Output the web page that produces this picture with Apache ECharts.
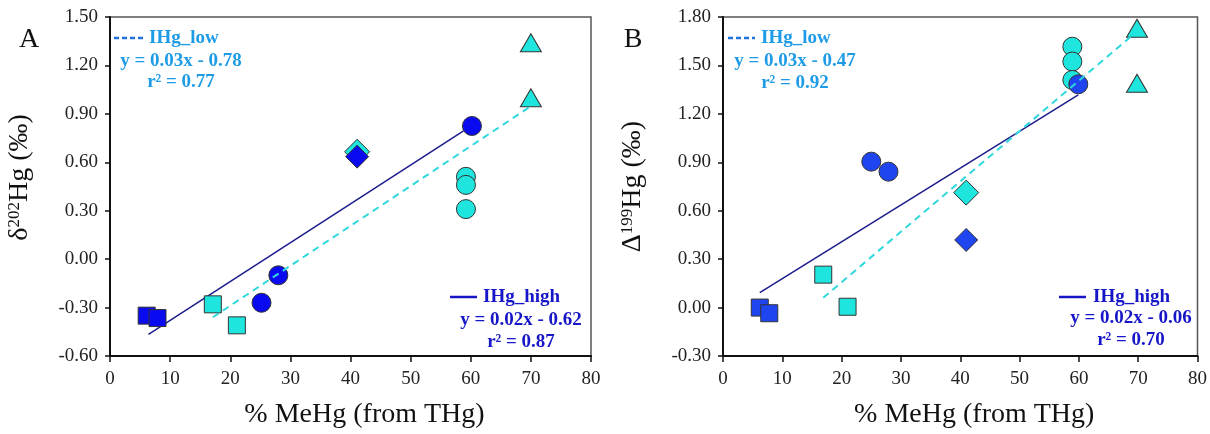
<!DOCTYPE html>
<html>
<head>
<meta charset="utf-8">
<script src="https://cdn.jsdelivr.net/npm/echarts@6/dist/echarts.min.js"></script>
<style>
  html, body { margin: 0; padding: 0; background: #fff; }
  #chart { width: 1210px; height: 434px; }
</style>
</head>
<body>
<div id="chart"></div>
<script>
// panel A: delta 202Hg vs %MeHg
var aBlueSquares = [[6.1, -0.35], [7.9, -0.365]]
var aCyanSquares = [[17.1, -0.28], [21.1, -0.41]]
var aBlueCircles = [[25.2, -0.27], [28.0, -0.10], [60.2, 0.825]]
var aCyanCircles = [[59.2, 0.51], [59.2, 0.46], [59.2, 0.31]]
var aCyanDiamonds = [[41.1, 0.665]]
var aBlueDiamonds = [[41.1, 0.635]]
var aCyanTriangles = [[70, 1.34], [70, 1.00]]
var aHighFit = [[6.4, -0.466], [58.8, 0.794]]
var aLowFit = [[17.1, -0.36], [69.9, 0.945]]

// panel B: Delta 199Hg vs %MeHg
var bBlueSquares = [[6.2, 0.0], [7.8, -0.035]]
var bCyanSquares = [[16.9, 0.204], [21.0, 0.005]]
var bBlueCircles = [[25.0, 0.904], [27.9, 0.842], [59.9, 1.383]]
var bCyanCircles = [[58.9, 1.616], [58.9, 1.524], [58.9, 1.41]]
var bCyanDiamonds = [[41.0, 0.712]]
var bBlueDiamonds = [[41.0, 0.419]]
var bCyanTriangles = [[69.8, 1.73], [69.8, 1.39]]
var bHighFit = [[6.2, 0.092], [59.9, 1.317]]
var bLowFit = [[16.9, 0.061], [69.1, 1.689]]

var xTicks = { min: 0, max: 80, interval: 10 }
var aYTicks = { min: -0.6, max: 1.5, interval: 0.3 }
var bYTicks = { min: -0.3, max: 1.8, interval: 0.3 }

var lowText = { a: ['IHg_low', 'y = 0.03x - 0.78', 'r² = 0.77'], b: ['IHg_low', 'y = 0.03x - 0.47', 'r² = 0.92'] }
var highText = { a: ['IHg_high', 'y = 0.02x - 0.62', 'r² = 0.87'], b: ['IHg_high', 'y = 0.02x - 0.06', 'r² = 0.70'] }

var CYAN = '#1ee6de'
var SERIF = '"Liberation Serif", "Times New Roman", serif'

function scatter(idx, data, symbol, size, color) {
  return {
    type: 'scatter',
    xAxisIndex: idx,
    yAxisIndex: idx,
    data: data,
    symbol: symbol,
    symbolSize: size,
    z: 3,
    itemStyle: { color: color, borderColor: '#333', borderWidth: 1, opacity: 1 }
  }
}

function fit(idx, data, dashed) {
  return {
    type: 'line',
    xAxisIndex: idx,
    yAxisIndex: idx,
    data: data,
    symbol: 'none',
    z: dashed ? 4 : 2,
    lineStyle: dashed
      ? { color: '#2fd8dc', width: 2, type: [7, 5] }
      : { color: '#1c1c8c', width: 1.5 }
  }
}

function panelSeries(idx, d, blue) {
  return [
    fit(idx, d.high, false),
    scatter(idx, d.blueSquares, 'rect', 17, blue),
    scatter(idx, d.cyanSquares, 'rect', 17, CYAN),
    scatter(idx, d.cyanDiamonds, 'diamond', 25, CYAN),
    scatter(idx, d.blueDiamonds, 'diamond', 23, blue),
    scatter(idx, d.cyanCircles, 'circle', 19, CYAN),
    scatter(idx, d.blueCircles, 'circle', 19, blue),
    scatter(idx, d.cyanTriangles, 'triangle', [21, 18], CYAN),
    fit(idx, d.low, true)
  ]
}

function xAxis(idx) {
  return {
    type: 'value',
    gridIndex: idx,
    min: xTicks.min,
    max: xTicks.max,
    interval: xTicks.interval,
    name: '% MeHg (from THg)',
    nameLocation: 'middle',
    nameGap: 45,
    nameTextStyle: { fontFamily: SERIF, fontSize: 28, color: '#111', padding: [0, 0, 0, 28] },
    axisLine: { onZero: false, lineStyle: { color: '#111', width: 2 } },
    axisTick: { length: 6, lineStyle: { color: '#111', width: 1.5 } },
    axisLabel: { fontFamily: SERIF, fontSize: 19, color: '#222', margin: 14 },
    splitLine: { show: false }
  }
}

function yAxis(idx, t, name, pad) {
  return {
    type: 'value',
    gridIndex: idx,
    min: t.min,
    max: t.max,
    interval: t.interval,
    name: name,
    nameLocation: 'middle',
    nameRotate: 90,
    nameGap: 76,
    nameTextStyle: {
      fontFamily: SERIF, fontSize: 28, color: '#111', padding: pad,
      rich: {
        n: { fontFamily: SERIF, fontSize: 28, color: '#111' },
        s: { fontFamily: SERIF, fontSize: 17, color: '#111', verticalAlign: 'top', lineHeight: 17 }
      }
    },
    axisLine: { onZero: false, lineStyle: { color: '#111', width: 2 } },
    axisTick: { length: 5, lineStyle: { color: '#111', width: 1.5 } },
    axisLabel: {
      fontFamily: SERIF, fontSize: 19, color: '#222', margin: 12,
      formatter: function (v) { return v.toFixed(2) }
    },
    splitLine: { show: false }
  }
}

function legendText(lines, lineX, textX, cx, ys, color, lineColor, dashed) {
  var font = 'bold 19px ' + SERIF
  return [
    {
      type: 'line',
      shape: { x1: lineX[0], y1: ys[0], x2: lineX[1], y2: ys[0] },
      style: { stroke: lineColor, lineWidth: 2.5, lineDash: dashed ? [5, 3] : null }
    },
    { type: 'text', x: textX, y: ys[0], style: { text: lines[0], font: font, fill: color, textAlign: 'left', textVerticalAlign: 'middle' } },
    { type: 'text', x: cx, y: ys[1], style: { text: lines[1], font: font, fill: color, textAlign: 'center', textVerticalAlign: 'middle' } },
    { type: 'text', x: cx, y: ys[2], style: { text: lines[2], font: font, fill: color, textAlign: 'center', textVerticalAlign: 'middle' } }
  ]
}

var chart = echarts.init(document.getElementById('chart'))

var LOWC = '#1e9be6'
var HIGHC = '#1616c8'

chart.setOption({
  backgroundColor: '#fff',
  animation: false,
  grid: [
    { left: 110, top: 17, width: 481, height: 339, show: true, borderColor: '#555', borderWidth: 1.5 },
    { left: 723, top: 17, width: 479, height: 339, show: true, borderColor: '#555', borderWidth: 1.5 }
  ],
  xAxis: [xAxis(0), xAxis(1)],
  yAxis: [
    yAxis(0, aYTicks, '{n|δ}{s|202}{n|Hg (‰)}', [0, 0, 0, 18]),
    yAxis(1, bYTicks, '{n|Δ}{s|199}{n|Hg (‰)}', [0, 0, 0, 0])
  ],
  graphic: [].concat(
    [
      { type: 'text', x: 29, y: 40, style: { text: 'A', font: '28px ' + SERIF, fill: '#111', textAlign: 'center', textVerticalAlign: 'middle' } },
      { type: 'text', x: 633, y: 40, style: { text: 'B', font: '28px ' + SERIF, fill: '#111', textAlign: 'center', textVerticalAlign: 'middle' } }
    ],
    legendText(lowText.a, [114, 143], 149, 181, [38, 61, 82], LOWC, '#1f74e0', true),
    legendText(highText.a, [450, 477], 483, 521, [297, 320, 342], HIGHC, '#1616c8', false),
    legendText(lowText.b, [728, 755], 761, 795, [38, 61, 83], LOWC, '#1f74e0', true),
    legendText(highText.b, [1059, 1086], 1093, 1131, [297, 318, 340], HIGHC, '#1616c8', false)
  ),
  series: [].concat(
    panelSeries(0, {
      high: aHighFit, low: aLowFit,
      blueSquares: aBlueSquares, cyanSquares: aCyanSquares,
      blueCircles: aBlueCircles, cyanCircles: aCyanCircles,
      blueDiamonds: aBlueDiamonds, cyanDiamonds: aCyanDiamonds,
      cyanTriangles: aCyanTriangles
    }, '#0a0af0'),
    panelSeries(1, {
      high: bHighFit, low: bLowFit,
      blueSquares: bBlueSquares, cyanSquares: bCyanSquares,
      blueCircles: bBlueCircles, cyanCircles: bCyanCircles,
      blueDiamonds: bBlueDiamonds, cyanDiamonds: bCyanDiamonds,
      cyanTriangles: bCyanTriangles
    }, '#1f45f0')
  )
})
</script>
</body>
</html>
